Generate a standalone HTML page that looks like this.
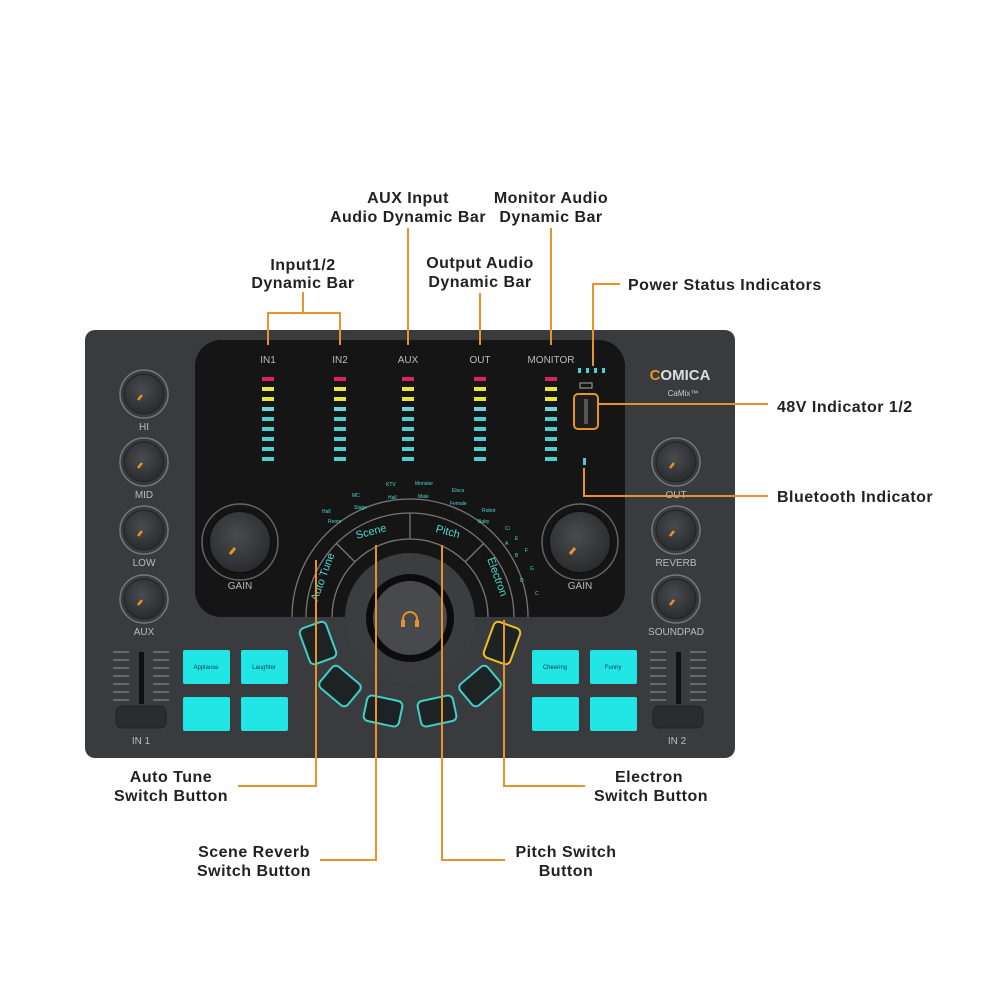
<!DOCTYPE html>
<html><head><meta charset="utf-8"><style>
html,body{margin:0;padding:0;background:#fff;width:1000px;height:1000px;overflow:hidden}
svg{display:block}
.lab{font-family:"Liberation Sans",sans-serif;font-weight:bold;font-size:16px;letter-spacing:0.5px;fill:#222}
.sm{font-family:"Liberation Sans",sans-serif;fill:#bbb;font-size:10px}
.cy{font-family:"Liberation Sans",sans-serif;fill:#4fd6cf;font-size:5px}
</style></head><body>
<svg width="1000" height="1000" viewBox="0 0 1000 1000" xmlns="http://www.w3.org/2000/svg">
<defs>
<radialGradient id="kn" cx="45%" cy="40%" r="60%"><stop offset="0" stop-color="#4a4b4e"/><stop offset="1" stop-color="#2a2b2d"/></radialGradient>
<g id="m">
<rect x="-6" y="377" width="12" height="4" fill="#d8245a"/>
<rect x="-6" y="387" width="12" height="4" fill="#e8e83a"/>
<rect x="-6" y="397" width="12" height="4" fill="#e8e83a"/>
<rect x="-6" y="407" width="12" height="4" fill="#6fd6d8"/>
<rect x="-6" y="417" width="12" height="4" fill="#4fd0d0"/>
<rect x="-6" y="427" width="12" height="4" fill="#4fd0d0"/>
<rect x="-6" y="437" width="12" height="4" fill="#4fd0d0"/>
<rect x="-6" y="447" width="12" height="4" fill="#4fd0d0"/>
<rect x="-6" y="457" width="12" height="4" fill="#4fd0d0"/>
</g>
<g id="k">
<circle r="24" fill="none" stroke="#777" stroke-width="1.5"/>
<circle r="20" fill="url(#kn)" stroke="#222"/>
<line x1="-6" y1="6" x2="-2" y2="1" stroke="#e8922a" stroke-width="2.5"/>
</g>
<g id="g">
<circle r="38" fill="none" stroke="#666" stroke-width="1.5"/>
<circle r="31" fill="url(#kn)" stroke="#111" stroke-width="2"/>
<line x1="-10" y1="12" x2="-5" y2="6" stroke="#e8922a" stroke-width="3"/>
</g>
<g id="f">
<g stroke="#777" stroke-width="1.5">
<line x1="0" y1="652" x2="16" y2="652"/><line x1="0" y1="660" x2="16" y2="660"/><line x1="0" y1="668" x2="16" y2="668"/><line x1="0" y1="676" x2="16" y2="676"/><line x1="0" y1="684" x2="16" y2="684"/><line x1="0" y1="692" x2="16" y2="692"/><line x1="0" y1="700" x2="16" y2="700"/>
<line x1="40" y1="652" x2="56" y2="652"/><line x1="40" y1="660" x2="56" y2="660"/><line x1="40" y1="668" x2="56" y2="668"/><line x1="40" y1="676" x2="56" y2="676"/><line x1="40" y1="684" x2="56" y2="684"/><line x1="40" y1="692" x2="56" y2="692"/><line x1="40" y1="700" x2="56" y2="700"/>
</g>
<rect x="26" y="652" width="5" height="52" fill="#111"/>
<rect x="3" y="706" width="50" height="22" rx="6" fill="#2b2c2e" stroke="#222"/>
</g>
</defs>
<rect x="85" y="330" width="650" height="428" rx="10" fill="#3a3b3e"/>
<rect x="195" y="340" width="430" height="277" rx="26" fill="#151515"/>
<g class="sm" text-anchor="middle">
<text x="268" y="363">IN1</text><text x="340" y="363">IN2</text><text x="408" y="363">AUX</text><text x="480" y="363">OUT</text><text x="551" y="363">MONITOR</text>
</g>
<use href="#m" x="268"/><use href="#m" x="340"/><use href="#m" x="408"/><use href="#m" x="480"/><use href="#m" x="551"/>
<g fill="#4fd0d0"><rect x="578" y="368" width="3" height="5"/><rect x="586" y="368" width="3" height="5"/><rect x="594" y="368" width="3" height="5"/><rect x="602" y="368" width="3" height="5"/></g>
<rect x="580" y="383" width="12" height="5" fill="none" stroke="#aaa" stroke-width="1"/>
<rect x="574" y="394" width="24" height="35" rx="4" fill="#1d1d1d" stroke="#e8922a" stroke-width="2"/>
<rect x="584" y="399" width="4" height="25" fill="#555"/>
<rect x="583" y="458" width="3" height="7" fill="#4fd0d0"/>
<text x="680" y="380" text-anchor="middle" font-family="Liberation Sans,sans-serif" font-weight="bold" font-size="15" fill="#ddd"><tspan fill="#e8922a">C</tspan>OMICA</text>
<text x="683" y="396" text-anchor="middle" font-family="Liberation Sans,sans-serif" font-size="8" fill="#ccc">CaMix™</text>
<use href="#k" x="144" y="394"/><use href="#k" x="144" y="462"/><use href="#k" x="144" y="530"/><use href="#k" x="144" y="599"/>
<use href="#k" x="676" y="462"/><use href="#k" x="676" y="530"/><use href="#k" x="676" y="599"/>
<g class="sm" text-anchor="middle" font-size="10">
<text x="144" y="430">HI</text><text x="144" y="498">MID</text><text x="144" y="566">LOW</text><text x="144" y="635">AUX</text>
<text x="676" y="498">OUT</text><text x="676" y="566">REVERB</text><text x="676" y="635">SOUNDPAD</text>
<text x="240" y="589">GAIN</text><text x="580" y="589">GAIN</text>
</g>
<use href="#g" x="240" y="542"/><use href="#g" x="580" y="542"/>
<g fill="none" stroke="#777" stroke-width="1.3">
<path d="M 292 617 A 118 118 0 0 1 528 617"/>
<path d="M 306 617 A 104 104 0 0 1 514 617"/>
<path d="M 332 617 A 78 78 0 0 1 488 617"/>
<line x1="410" y1="513" x2="410" y2="539"/>
<line x1="336" y1="543" x2="355" y2="562"/>
<line x1="484" y1="543" x2="465" y2="562"/>
</g>
<g font-family="Liberation Sans,sans-serif" font-size="11" fill="#4fd6cf" text-anchor="middle">
<text x="372" y="535" transform="rotate(-15 372 535)">Scene</text>
<text x="447" y="535" transform="rotate(15 447 535)">Pitch</text>
<text x="326" y="578" transform="rotate(-70 326 578)">Auto Tune</text>
<text x="494" y="578" transform="rotate(70 494 578)">Electron</text>
</g>
<g class="cy"><text x="322" y="513">Hall</text><text x="328" y="523">Room</text><text x="352" y="497">MC</text><text x="354" y="509">Stage</text><text x="386" y="486">KTV</text><text x="388" y="499">Hall</text><text x="415" y="485">Monster</text><text x="418" y="498">Male</text><text x="452" y="492">Elecs</text><text x="450" y="505">Female</text><text x="482" y="512">Robot</text><text x="478" y="523">Baby</text>
<text x="505" y="530">Ci</text><text x="515" y="540">E</text><text x="525" y="552">F</text><text x="505" y="545">A</text><text x="515" y="557">B</text><text x="530" y="570">G</text><text x="520" y="582">D</text><text x="535" y="595">C</text></g>
<circle cx="410" cy="618" r="65" fill="#3c3d40"/>
<circle cx="410" cy="618" r="44" fill="#0c0c0c"/>
<circle cx="410" cy="618" r="37" fill="#48494c"/>
<path d="M403 626 v-7 a7 7 0 0 1 14 0 v7" fill="none" stroke="#e8922a" stroke-width="2"/>
<rect x="401" y="620" width="4" height="7" fill="#e8922a"/><rect x="415" y="620" width="4" height="7" fill="#e8922a"/>
<g fill="#1d2224" stroke="#3fd0c8" stroke-width="2">
<rect x="-14" y="-19" width="28" height="38" rx="5" transform="translate(318 643) rotate(-20)"/>
<rect x="-18" y="-14" width="36" height="28" rx="5" transform="translate(340 686) rotate(40)"/>
<rect x="-18" y="-13" width="36" height="26" rx="5" transform="translate(383 711) rotate(12)"/>
<rect x="-18" y="-13" width="36" height="26" rx="5" transform="translate(437 711) rotate(-12)"/>
<rect x="-18" y="-14" width="36" height="28" rx="5" transform="translate(480 686) rotate(-40)"/>
<rect x="-14" y="-19" width="28" height="38" rx="5" transform="translate(502 643) rotate(20)" stroke="#f0c020"/>
</g>
<g fill="#22e6e6">
<rect x="183" y="650" width="47" height="34" rx="2"/><rect x="241" y="650" width="47" height="34" rx="2"/>
<rect x="183" y="697" width="47" height="34" rx="2"/><rect x="241" y="697" width="47" height="34" rx="2"/>
<rect x="532" y="650" width="47" height="34" rx="2"/><rect x="590" y="650" width="47" height="34" rx="2"/>
<rect x="532" y="697" width="47" height="34" rx="2"/><rect x="590" y="697" width="47" height="34" rx="2"/>
</g>
<g font-family="Liberation Sans,sans-serif" font-size="6" fill="#145" text-anchor="middle">
<text x="206" y="669">Applause</text><text x="264" y="669">Laughter</text><text x="555" y="669">Cheering</text><text x="613" y="669">Funny</text></g>
<use href="#f" x="113"/><use href="#f" x="650"/>
<text x="141" y="744" class="sm" font-size="6" text-anchor="middle">IN 1</text>
<text x="677" y="744" class="sm" font-size="6" text-anchor="middle">IN 2</text>
<g fill="none" stroke="#e8922a" stroke-width="2">
<path d="M303 292 V313 M268 345 V313 H340 V345"/>
<path d="M408 228 V345"/>
<path d="M480 293 V345"/>
<path d="M551 228 V345"/>
<path d="M620 284 H593 V366"/>
<path d="M598 404 H768"/>
<path d="M584 468 V496 H768"/>
<path d="M316 560 V786 H238"/>
<path d="M376 545 V860 H320"/>
<path d="M442 545 V860 H505"/>
<path d="M504 620 V786 H585"/>
</g>
<g class="lab" text-anchor="middle">
<text x="303" y="270">Input1/2</text><text x="303" y="288">Dynamic Bar</text>
<text x="408" y="203">AUX Input</text><text x="408" y="222">Audio Dynamic Bar</text>
<text x="480" y="268">Output Audio</text><text x="480" y="287">Dynamic Bar</text>
<text x="551" y="203">Monitor Audio</text><text x="551" y="222">Dynamic Bar</text>
<text x="171" y="782">Auto Tune</text><text x="171" y="801">Switch Button</text>
<text x="254" y="857">Scene Reverb</text><text x="254" y="876">Switch Button</text>
<text x="566" y="857">Pitch Switch</text><text x="566" y="876">Button</text>
<text x="649" y="782">Electron</text><text x="651" y="801">Switch Button</text>
</g>
<g class="lab">
<text x="628" y="290">Power Status Indicators</text>
<text x="777" y="412">48V Indicator 1/2</text>
<text x="777" y="502">Bluetooth Indicator</text>
</g>
</svg>
</body></html>
